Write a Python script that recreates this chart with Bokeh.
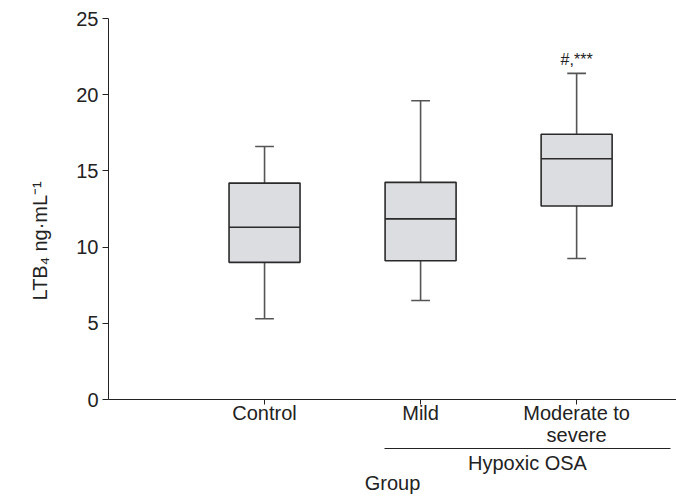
from bokeh.plotting import figure
from bokeh.models import Range1d, LinearAxis, FixedTicker, ColumnDataSource, Title
from bokeh.core.properties import value
from bokeh.embed import file_html
from bokeh.resources import INLINE

# ---- data ----
categories = ["Control", "Mild", "Moderate to\nsevere"]
whisker_low = [5.3, 6.5, 9.25]
q1 = [9.0, 9.1, 12.7]
median = [11.3, 11.85, 15.8]
q3 = [14.2, 14.25, 17.4]
whisker_high = [16.6, 19.6, 21.4]
annotations = ["", "", "#,***"]
y_ticks = [0, 5, 10, 15, 20, 25]
group_name = "Hypoxic OSA"
group_members = ["Mild", "Moderate to\nsevere"]
x_title = "Group"
y_title = "LTB\u2084 ng\u00b7mL\u207b\u00b9"

FONT = "Liberation Sans"
TXT = "#222222"
FS = "20px"

xpos = list(range(1, len(categories) + 1))
box_w = 0.455
cap_w = 0.12

src = ColumnDataSource(dict(
    x=xpos, lo=whisker_low, q1=q1, med=median, q3=q3, hi=whisker_high,
    ann=annotations,
    left=[x - box_w / 2 for x in xpos], right=[x + box_w / 2 for x in xpos],
    cl=[x - cap_w / 2 for x in xpos], cr=[x + cap_w / 2 for x in xpos],
    ann_y=[h + 0.35 for h in whisker_high],
))

p = figure(width=676, height=496, output_backend="svg", toolbar_location=None,
           x_range=Range1d(0, 3.64), y_range=Range1d(0, 25),
           min_border_left=108, min_border_right=0, min_border_top=18,
           min_border_bottom=0)
p.outline_line_color = None
p.grid.visible = False
p.background_fill_color = "white"
p.border_fill_color = "white"

# whiskers
p.segment(x0="x", y0="q3", x1="x", y1="hi", source=src, line_color="#555555", line_width=1.6)
p.segment(x0="x", y0="lo", x1="x", y1="q1", source=src, line_color="#555555", line_width=1.6)
p.segment(x0="cl", y0="hi", x1="cr", y1="hi", source=src, line_color="#555555", line_width=1.6)
p.segment(x0="cl", y0="lo", x1="cr", y1="lo", source=src, line_color="#555555", line_width=1.6)
# boxes
p.quad(left="left", right="right", bottom="q1", top="q3", source=src,
       fill_color="#dcdde0", line_color="#2a2a2a", line_width=1.6)
p.segment(x0="left", y0="med", x1="right", y1="med", source=src,
          line_color="#2a2a2a", line_width=1.6)
# significance annotation
p.text(x="x", y="ann_y", text="ann", source=src, text_align="center",
       text_baseline="bottom", text_font=value(FONT), text_font_size="16px",
       text_color=TXT)

# y axis
ya = p.yaxis[0]
ya.ticker = FixedTicker(ticks=y_ticks)
ya.major_tick_in = 0
ya.major_tick_out = 6
ya.minor_tick_line_color = None
ya.axis_line_color = "#222222"
ya.major_tick_line_color = "#222222"
ya.major_label_text_font = FONT
ya.major_label_text_font_size = FS
ya.major_label_text_color = TXT
ya.major_label_standoff = 4

# y title as a side title, shifted down along the axis
yt = Title(text=y_title, align="left", offset=99, standoff=46,
           text_font=FONT, text_font_size=FS, text_font_style="normal",
           text_color=TXT)
p.add_layout(yt, "left")

# main x axis
xa = p.xaxis[0]
xa.ticker = FixedTicker(ticks=xpos)
xa.major_label_overrides = {x: c for x, c in zip(xpos, categories)}
xa.major_tick_in = 0
xa.major_tick_out = 5
xa.minor_tick_line_color = None
xa.axis_line_color = "#222222"
xa.major_tick_line_color = "#222222"
xa.major_label_text_font = FONT
xa.major_label_text_font_size = FS
xa.major_label_text_line_height = 1.0
xa.major_label_text_color = TXT
xa.major_label_standoff = -3

# group bracket axis
gx = [xpos[categories.index(m)] for m in group_members]
g_lo = min(gx) - 0.23
g_hi = max(gx) + 0.6
g_mid = (g_lo + g_hi) / 2
ga = LinearAxis(bounds=(g_lo, g_hi), ticker=FixedTicker(ticks=[g_mid]),
                major_label_overrides={g_mid: group_name})
ga.major_tick_in = 0
ga.major_tick_out = 0
ga.minor_tick_line_color = None
ga.axis_line_color = "#222222"
ga.major_label_text_font = FONT
ga.major_label_text_font_size = FS
ga.major_label_text_line_height = 1.0
ga.major_label_text_color = TXT
ga.major_label_standoff = 3
p.add_layout(ga, "below")

# overall x title axis
ta = LinearAxis(ticker=FixedTicker(ticks=[]), axis_label=x_title)
ta.axis_line_color = None
ta.major_tick_line_color = None
ta.minor_tick_line_color = None
ta.major_tick_out = 0
ta.major_tick_in = 0
ta.major_label_standoff = 0
ta.major_label_text_font_size = "0px"
ta.axis_label_text_font = FONT
ta.axis_label_text_font_size = FS
ta.axis_label_text_line_height = 1.0
ta.axis_label_text_font_style = "normal"
ta.axis_label_text_color = TXT
ta.axis_label_standoff = -5
p.add_layout(ta, "below")

open("out.html", "w").write(file_html(p, INLINE))
